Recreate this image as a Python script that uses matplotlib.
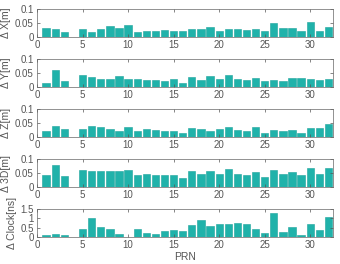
import numpy as np
import matplotlib
matplotlib.use('Agg')
import matplotlib.pyplot as plt

prn = np.arange(1, 33)

dx = [0.033, 0.030, 0.018, 0.0, 0.030, 0.018, 0.030, 0.038, 0.032, 0.042,
      0.017, 0.023, 0.023, 0.026, 0.022, 0.022, 0.030, 0.030, 0.036, 0.022,
      0.030, 0.030, 0.026, 0.030, 0.020, 0.050, 0.032, 0.033, 0.021, 0.052,
      0.020, 0.035]
dy = [0.015, 0.060, 0.020, 0.0, 0.044, 0.035, 0.030, 0.030, 0.040, 0.030,
      0.030, 0.025, 0.025, 0.020, 0.030, 0.015, 0.035, 0.025, 0.038, 0.030,
      0.042, 0.028, 0.025, 0.032, 0.022, 0.024, 0.022, 0.033, 0.033, 0.028,
      0.026, 0.030]
dz = [0.020, 0.038, 0.030, 0.0, 0.030, 0.040, 0.034, 0.028, 0.023, 0.035,
      0.023, 0.030, 0.025, 0.023, 0.020, 0.016, 0.031, 0.028, 0.023, 0.030,
      0.037, 0.025, 0.023, 0.034, 0.016, 0.025, 0.023, 0.026, 0.015, 0.033,
      0.033, 0.047]
d3d = [0.042, 0.079, 0.040, 0.0, 0.062, 0.057, 0.057, 0.057, 0.057, 0.062,
       0.042, 0.047, 0.042, 0.042, 0.042, 0.032, 0.057, 0.047, 0.058, 0.047,
       0.065, 0.047, 0.042, 0.055, 0.035, 0.062, 0.045, 0.053, 0.043, 0.068,
       0.047, 0.067]
dclk = [0.10, 0.15, 0.12, 0.0, 0.45, 1.02, 0.55, 0.45, 0.15, 0.0,
        0.42, 0.22, 0.17, 0.33, 0.40, 0.33, 0.62, 0.93, 0.58, 0.67,
        0.68, 0.73, 0.70, 0.45, 0.23, 1.30, 0.28, 0.53, 0.12, 0.67,
        0.35, 1.08]

panels = [
    (dx, 'Δ X[m]', [0, 0.05, 0.1], ['0', '0.05', '0.1'], 0.1),
    (dy, 'Δ Y[m]', [0, 0.05, 0.1], ['0', '0.05', '0.1'], 0.1),
    (dz, 'Δ Z[m]', [0, 0.05, 0.1], ['0', '0.05', '0.1'], 0.1),
    (d3d, 'Δ 3D[m]', [0, 0.05, 0.1], ['0', '0.05', '0.1'], 0.1),
    (dclk, 'Δ Clock[ns]', [0, 0.5, 1, 1.5], ['0', '0.5', '1', '1.5'], 1.5),
]

plt.rcParams['font.family'] = ['Liberation Sans', 'DejaVu Sans']

W, H = 340, 264
fig = plt.figure(figsize=(W / 100, H / 100), dpi=100)

bar_color = '#20b2aa'
txt_color = '#555555'

for i, (vals, lab, yt, ytl, ymax) in enumerate(panels):
    top = 9 + 50 * i
    ax = fig.add_axes([37 / W, 1 - (top + 28) / H, 296 / W, 28 / H])
    ax.bar(prn, vals, width=0.8, color=bar_color, edgecolor='#1ca39c', linewidth=0.4)
    ax.set_xlim(0, 32.5)
    ax.set_ylim(0, ymax)
    ax.set_xticks([0, 5, 10, 15, 20, 25, 30])
    ax.set_yticks(yt)
    ax.set_yticklabels(ytl)
    ax.tick_params(direction='in', length=2, width=0.5, top=True, right=True,
                   labelsize=7, colors=txt_color, pad=2.5)
    for sp in ax.spines.values():
        sp.set_linewidth(0.5)
        sp.set_color('#666666')
    ax.set_ylabel(lab, fontsize=7.5, color=txt_color, labelpad=2.5)
    if i == 4:
        ax.set_xlabel('PRN', fontsize=7.5, color=txt_color, labelpad=1)

fig.savefig('out.png', dpi=100)
